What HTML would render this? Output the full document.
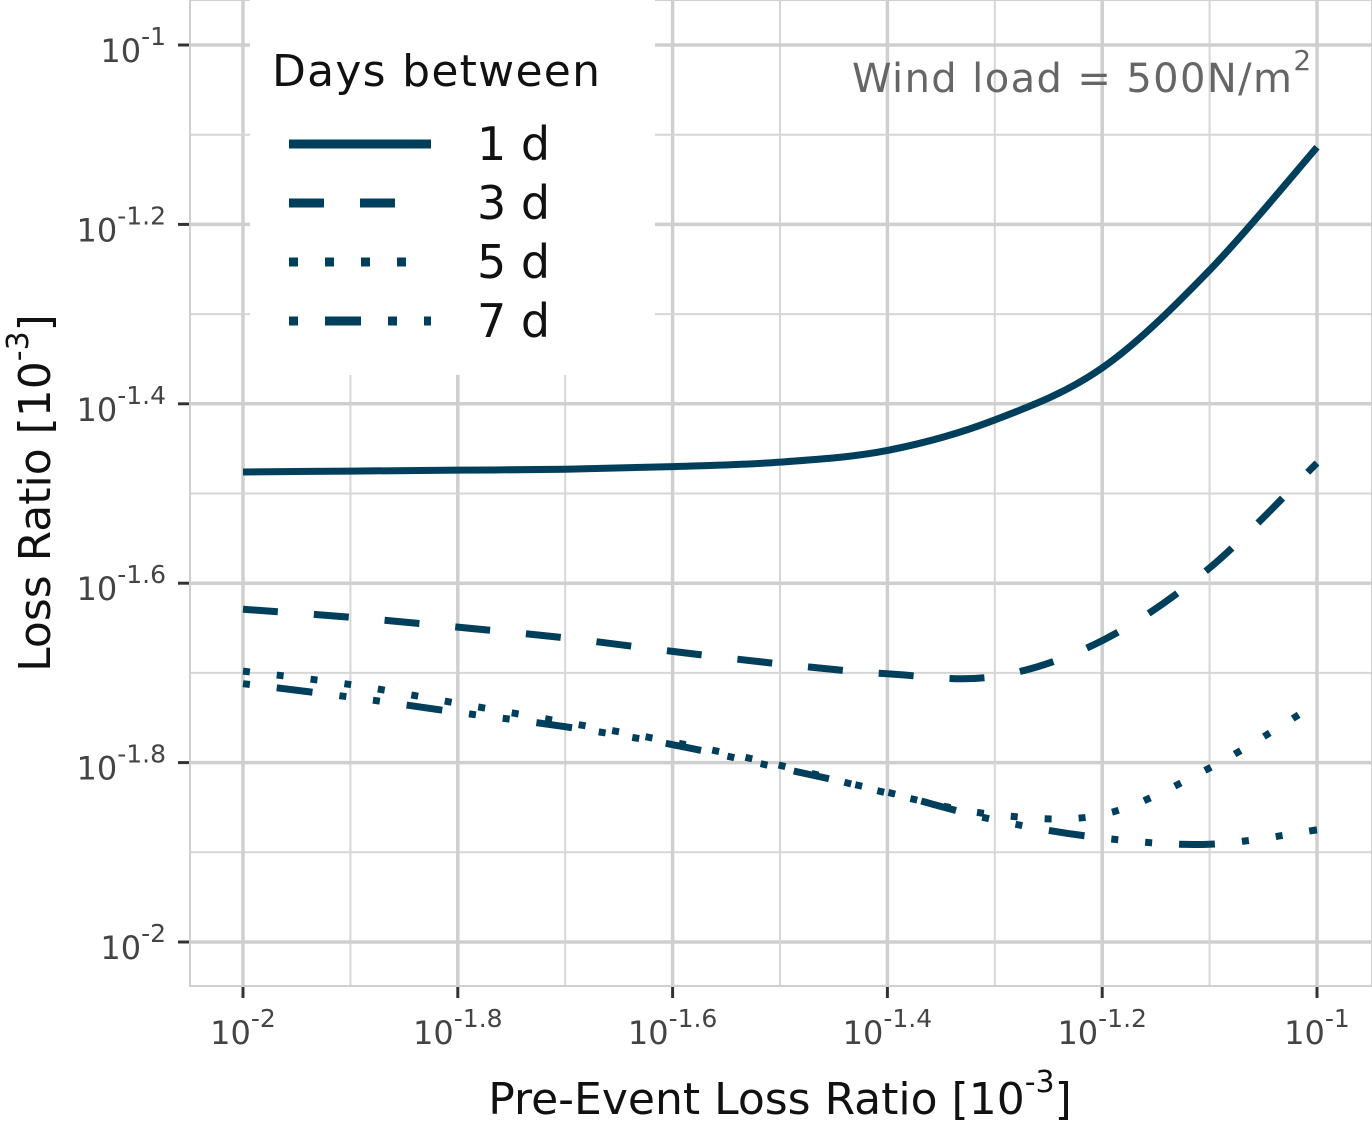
<!DOCTYPE html>
<html><head><meta charset="utf-8"><style>
body{margin:0;background:#fff;}
svg text{font-family:"DejaVu Sans","Liberation Sans",sans-serif;}
</style></head><body>
<svg width="1372" height="1124" xmlns="http://www.w3.org/2000/svg">
<g id="grid"></g>
<rect x="190" y="0" width="1182" height="986" fill="none" stroke="#cfcfcf" stroke-width="2"/>
<g id="axes"></g>
<g id="series"></g>
<rect x="250" y="0" width="405" height="375" fill="#fff"/>
<g fill="#111">
<text x="272" y="86" font-size="44" textLength="328">Days between</text>
<line x1="289" y1="144" x2="431" y2="144" stroke="#003f5c" stroke-width="9"/>
<line x1="289" y1="203" x2="431" y2="203" stroke="#003f5c" stroke-width="9" stroke-dasharray="35 36"/>
<line x1="289" y1="262" x2="431" y2="262" stroke="#003f5c" stroke-width="9" stroke-dasharray="9 27"/>
<line x1="289" y1="321" x2="431" y2="321" stroke="#003f5c" stroke-width="9" stroke-dasharray="9 27 36 27 9 27"/>
<text x="477" y="160" font-size="46">1 d</text>
<text x="477" y="219" font-size="46">3 d</text>
<text x="477" y="278" font-size="46">5 d</text>
<text x="477" y="337" font-size="46">7 d</text>
</g>
<text x="852" y="92" font-size="40" fill="#666"><tspan textLength="440">Wind load = 500N/m</tspan><tspan dy="-22" font-size="28">2</tspan></text>
<text x="780" y="1114" font-size="44" fill="#111" text-anchor="middle">Pre-Event Loss Ratio [10<tspan dy="-22" font-size="30">-3</tspan><tspan dy="22">]</tspan></text>
<text transform="translate(50,493) rotate(-90)" font-size="44" fill="#111" text-anchor="middle">Loss Ratio [10<tspan dy="-22" font-size="30">-3</tspan><tspan dy="22">]</tspan></text>
</svg>
<script>
const xs=[-2,-1.9,-1.8,-1.7,-1.6,-1.5,-1.4,-1.3,-1.2,-1.1,-1];
const s1d=[-1.476,-1.475,-1.474,-1.473,-1.470,-1.465,-1.452,-1.418,-1.360,-1.251,-1.114];
const s3d=[-1.629,-1.638,-1.649,-1.661,-1.676,-1.690,-1.701,-1.704,-1.664,-1.583,-1.466];
const s5d=[-1.698,-1.713,-1.734,-1.755,-1.777,-1.803,-1.834,-1.858,-1.858,-1.806,-1.734];
const s7d=[-1.712,-1.727,-1.744,-1.760,-1.780,-1.806,-1.833,-1.864,-1.884,-1.891,-1.875];
const ticks=[-2,-1.8,-1.6,-1.4,-1.2,-1];
const tickLabels=["-2","-1.8","-1.6","-1.4","-1.2","-1"];
const X=v=>243+(v+2)*1074;
const Y=v=>45+(-1-v)*897;
const NS="http://www.w3.org/2000/svg";
function mk(t,a,p){const e=document.createElementNS(NS,t);for(const k in a)e.setAttribute(k,a[k]);p.appendChild(e);return e;}
const grid=document.getElementById('grid'),axes=document.getElementById('axes'),ser=document.getElementById('series');
for(let i=0;i<ticks.length;i++){
 const t=ticks[i];
 if(i<ticks.length-1){const m=t+0.1;
  let g=mk('line',{x1:X(m),x2:X(m),y1:0,y2:986,stroke:'#d6d6d6','stroke-width':2},grid);
  
  g=mk('line',{x1:190,x2:1372,y1:Y(m),y2:Y(m),stroke:'#d6d6d6','stroke-width':2},grid);
  }
 let g=mk('line',{x1:X(t),x2:X(t),y1:0,y2:986,stroke:'#cfcfcf','stroke-width':3.5},grid);
 
 g=mk('line',{x1:190,x2:1372,y1:Y(t),y2:Y(t),stroke:'#cfcfcf','stroke-width':3.5},grid);
 
 let tk=mk('line',{x1:X(t),x2:X(t),y1:987,y2:998,stroke:'#333','stroke-width':3},axes);
 
 tk=mk('line',{x1:178,x2:189,y1:Y(t),y2:Y(t),stroke:'#333','stroke-width':3},axes);
 
 let tx=mk('text',{x:X(t),y:1044,'font-size':32,fill:'#444','text-anchor':'middle'},axes);
 
 tx.textContent='10';let sp=mk('tspan',{dy:-17,'font-size':25},tx);sp.textContent=tickLabels[i];
 tx=mk('text',{x:166,y:Y(t)+17,'font-size':32,fill:'#444','text-anchor':'end'},axes);
 
 tx.textContent='10';sp=mk('tspan',{dy:-17,'font-size':25},tx);sp.textContent=tickLabels[i];
}
function smooth(px,py){
 let d='M'+px[0]+','+py[0];
 for(let i=0;i<px.length-1;i++){
  const x0=px[Math.max(i-1,0)],y0=py[Math.max(i-1,0)],x1=px[i],y1=py[i],x2=px[i+1],y2=py[i+1];
  const x3=px[Math.min(i+2,px.length-1)],y3=py[Math.min(i+2,px.length-1)];
  d+=' C'+(x1+(x2-x0)/6)+','+(y1+(y2-y0)/6)+' '+(x2-(x3-x1)/6)+','+(y2-(y3-y1)/6)+' '+x2+','+y2;
 }
 return d;
}
const series=[[s1d,'none','line-1d'],[s3d,'35 36','line-3d'],[s5d,'7 27','line-5d'],[s7d,'7 27 36 27 7 27','line-7d']];
for(const [d,da,n] of series){
 const p=mk('path',{d:smooth(xs.map(X),d.map(Y)),fill:'none',stroke:'#003f5c','stroke-width':7,'stroke-dasharray':da},ser);
 
 
}
</script>
</body></html>
